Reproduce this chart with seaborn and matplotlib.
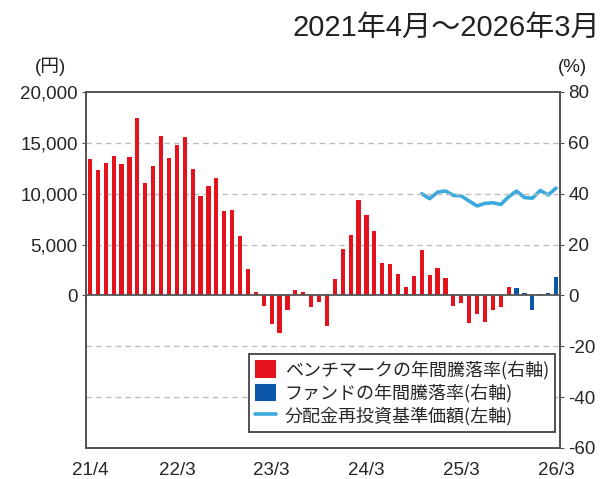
import pandas as pd
import matplotlib.pyplot as plt
import numpy as np
import seaborn as sns
from matplotlib.patches import Patch
from matplotlib.lines import Line2D

# months 2021/4 .. 2026/3
months = [p.strftime('%y/%-m') for p in pd.period_range('2021-04', '2026-03', freq='M')]

# benchmark annual return (%), right axis
bench = [53.8, 49.4, 52.1, 54.7, 51.5, 54.4, 69.6, 44.3, 50.9, 62.7,
         54.2, 59.0, 62.3, 49.8, 39.2, 42.9, 46.2, 33.3, 33.6, 23.5,
         10.4, 1.4, -4.1, -11.4, -14.8, -5.9, 2.1, 1.3, -4.6, -2.6,
         -12.2, 6.4, 18.4, 23.7, 37.6, 31.5, 25.4, 12.7, 12.2, 8.3,
         3.5, 7.5, 18.0, 8.1, 10.9, 6.8, -4.3, -3.0, -10.9, -7.2,
         -10.3, -5.9, -4.6, 3.3]
# fund annual return (%), right axis (last 6 months)
fund = [3.0, 0.9, -5.6, 0.5, 0.8, 7.2]
# NAV incl. reinvested distributions (yen), left axis, from 2024/10
nav = [10000, 9510, 10150, 10270, 9840, 9790, 9280, 8800, 9050,
       9110, 8940, 9700, 10260, 9620, 9560, 10320, 9880, 10550]

tick_labels = ['21/4', '22/3', '23/3', '24/3', '25/3', '26/3']

lbl_bench = 'ベンチマークの年間騰落率(右軸)'
lbl_fund = 'ファンドの年間騰落率(右軸)'
lbl_nav = '分配金再投資基準価額(左軸)'

RED = '#e3121d'
BLUE = '#0b56a8'
LINE = '#3aaade'
SPINE = '#555555'

df_bench = pd.DataFrame({'month': months[:len(bench)], 'rate': bench})
df_fund = pd.DataFrame({'month': months[len(bench):len(bench) + len(fund)], 'rate': fund})
nav_pos = list(range(len(months) - len(nav), len(months)))

sns.set_style('white')
plt.rcParams['font.family'] = ['Liberation Sans', 'Noto Sans CJK JP']

fig = plt.figure(figsize=(6.09, 4.79), dpi=100)
ax = fig.add_axes([86 / 609, 1 - 448 / 479, 474 / 609, 356 / 479])
ax2 = ax.twinx()

# grid (dashed)
for g in [60, 40, 20, -20, -40]:
    ax2.axhline(g, color='#bdbdbd', lw=1, ls=(0, (4, 3)), zorder=0)

sns.barplot(data=df_bench, x='month', y='rate', order=months, color=RED,
            saturation=1, width=0.52, errorbar=None, linewidth=0,
            edgecolor='none', ax=ax2, zorder=2)
sns.barplot(data=df_fund, x='month', y='rate', order=months, color=BLUE,
            saturation=1, width=0.52, errorbar=None, linewidth=0,
            edgecolor='none', ax=ax2, zorder=2)
ax2.axhline(0, color=SPINE, lw=1.3, zorder=3)

sns.lineplot(x=nav_pos, y=nav, color=LINE, lw=2.6, ax=ax)

ax.set_xlim(-0.5, len(months) - 0.5)
ax2.set_xlim(-0.5, len(months) - 0.5)
ax.set_ylim(-15000, 20000)
ax.set_yticks([0, 5000, 10000, 15000, 20000])
ax.set_yticklabels(['0', '5,000', '10,000', '15,000', '20,000'], fontsize=13.5)
ax2.set_ylim(-60, 80)
ax2.set_yticks(np.arange(-60, 81, 20))
ax2.set_yticklabels([str(v) for v in range(-60, 81, 20)], fontsize=13.5)

pos = [months.index(t) for t in tick_labels]
ax.set_xticks(pos)
ax.set_xticklabels(tick_labels, fontsize=13.5)
ax2.set_xticks(pos)
for a in (ax, ax2):
    a.set_xlabel('')
    a.set_ylabel('')

ax.tick_params(axis='x', direction='in', length=4, color=SPINE, pad=10)
ax.tick_params(axis='y', direction='out', length=3, color=SPINE, pad=3)
ax2.tick_params(axis='y', direction='out', length=3, color=SPINE, pad=3)
ax2.tick_params(axis='x', bottom=False, labelbottom=False)

for a in (ax, ax2):
    for s in a.spines.values():
        s.set_visible(True)
        s.set_color(SPINE)
        s.set_linewidth(1.4)

handles = [Patch(facecolor=RED, edgecolor='none', label=lbl_bench),
           Patch(facecolor=BLUE, edgecolor='none', label=lbl_fund),
           Line2D([0], [0], color=LINE, lw=2.6, label=lbl_nav)]
leg = ax2.legend(handles=handles, loc='lower right', bbox_to_anchor=(0.99, 0.045),
                 prop={'family': ['Noto Sans CJK JP'], 'size': 13},
                 frameon=True, fancybox=False, framealpha=1,
                 edgecolor='#333333', borderpad=0.35, labelspacing=0.22,
                 handlelength=1.15, handleheight=1.15, handletextpad=0.5,
                 borderaxespad=0)
leg.get_frame().set_linewidth(1.2)
leg.set_zorder(10)

fig.text(600 / 609, 1 - 28 / 479, '2021年4月～2026年3月', ha='right', va='center',
         fontsize=21, color='#222222')
fig.text(50 / 609, 1 - 67 / 479, '(円)', ha='center', va='center', fontsize=13.5,
         color='#222222')
fig.text(572 / 609, 1 - 67 / 479, '(%)', ha='center', va='center', fontsize=13.5,
         color='#222222')

fig.savefig('out.png', dpi=100)
